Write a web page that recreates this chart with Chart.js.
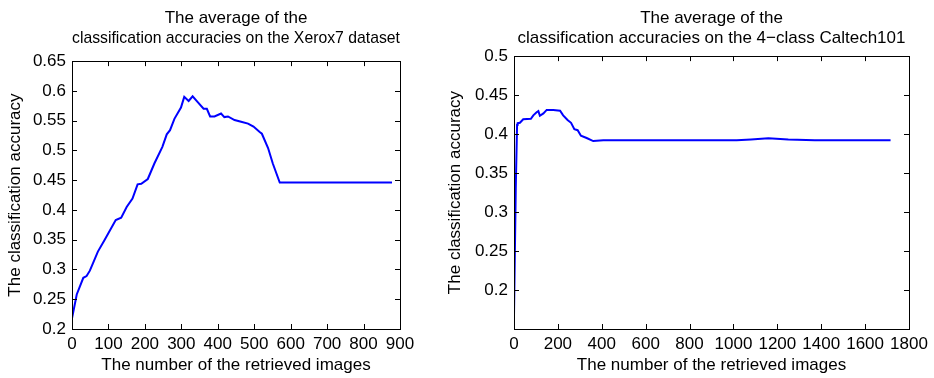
<!DOCTYPE html>
<html>
<head>
<meta charset="utf-8">
<script src="https://cdn.jsdelivr.net/npm/chart.js@4"></script>
<style>
  body { margin: 0; background: #fff; }
  #wrapA { position: absolute; left: 0; top: 0; width: 440px; height: 378px; }
  #wrapB { position: absolute; left: 440px; top: 0; width: 494px; height: 378px; }
</style>
</head>
<body>
<div id="wrapA"><canvas id="chartA" width="440" height="378"></canvas></div>
<div id="wrapB"><canvas id="chartB" width="494" height="378"></canvas></div>
<script>
// Xerox7 dataset
const xeroxX = [0, 13, 31, 40, 49, 58, 71, 89, 120, 135, 150, 166, 180, 190, 208, 226, 248, 260, 269, 281, 299, 308, 320, 331, 345, 361, 370, 379, 391, 409, 418, 428, 446, 464, 483, 498, 515, 521, 538, 551, 570, 878];
const xeroxY = [0.218, 0.258, 0.286, 0.289, 0.298, 0.311, 0.330, 0.349, 0.383, 0.387, 0.405, 0.419, 0.443, 0.444, 0.452, 0.478, 0.506, 0.527, 0.534, 0.553, 0.572, 0.590, 0.583, 0.591, 0.581, 0.570, 0.570, 0.557, 0.557, 0.562, 0.556, 0.557, 0.551, 0.548, 0.545, 0.540, 0.531, 0.528, 0.504, 0.478, 0.446, 0.446];
const xeroxXTicks = [0, 100, 200, 300, 400, 500, 600, 700, 800, 900];
const xeroxYTicks = [0.2, 0.25, 0.3, 0.35, 0.4, 0.45, 0.5, 0.55, 0.6, 0.65];

// 4-class Caltech101
const caltechX = [0, 8, 14, 17, 27, 42, 77, 88, 103, 111, 118, 134, 149, 179, 210, 224, 244, 260, 275, 290, 305, 331, 361, 407, 1015, 1080, 1159, 1250, 1371, 1716];
const caltechY = [0.167, 0.33, 0.412, 0.414, 0.4145, 0.419, 0.4197, 0.424, 0.428, 0.4295, 0.4235, 0.4265, 0.431, 0.431, 0.430, 0.424, 0.418, 0.4145, 0.4064, 0.405, 0.398, 0.395, 0.391, 0.392, 0.392, 0.393, 0.3945, 0.393, 0.392, 0.392];
const caltechXTicks = [0, 200, 400, 600, 800, 1000, 1200, 1400, 1600, 1800];
const caltechYTicks = [0.2, 0.25, 0.3, 0.35, 0.4, 0.45, 0.5];

const FONT = { family: '"Liberation Sans", Arial, sans-serif', size: 17, lineHeight: 1.2 };
Chart.defaults.color = '#000';

// matlab style box with inward ticks, title centred over the axes
const boxPlugin = {
  id: 'box',
  afterLayout(chart) {
    const tb = chart.titleBlock;
    if (tb) {
      tb.left = chart.chartArea.left;
      tb.right = chart.chartArea.right;
      tb.width = tb.right - tb.left;
    }
  },
  afterDraw(chart) {
    const ctx = chart.ctx, a = chart.chartArea;
    const sx = chart.scales.x, sy = chart.scales.y;
    ctx.save();
    ctx.strokeStyle = '#000';
    ctx.lineWidth = 1;
    ctx.strokeRect(Math.round(a.left) + 0.5, Math.round(a.top) + 0.5, Math.round(a.right - a.left), Math.round(a.bottom - a.top));
    ctx.beginPath();
    sx.ticks.forEach(t => {
      const p = Math.round(sx.getPixelForValue(t.value)) + 0.5;
      ctx.moveTo(p, a.bottom); ctx.lineTo(p, a.bottom - 5);
      ctx.moveTo(p, a.top); ctx.lineTo(p, a.top + 5);
    });
    sy.ticks.forEach(t => {
      const p = Math.round(sy.getPixelForValue(t.value)) + 0.5;
      ctx.moveTo(a.left, p); ctx.lineTo(a.left + 5, p);
      ctx.moveTo(a.right, p); ctx.lineTo(a.right - 5, p);
    });
    ctx.stroke();
    ctx.restore();
  }
};

function makeChart(id, xs, ys, xTicks, yTicks, xMax, yMin, yMax, title, yWidth, padRight, titleBottom) {
  return new Chart(document.getElementById(id), {
    type: 'line',
    data: {
      datasets: [{
        data: xs.map((x, i) => ({ x: x, y: ys[i] })),
        borderColor: '#0000ff',
        borderWidth: 2,
        pointRadius: 0,
        tension: 0,
        fill: false
      }]
    },
    options: {
      responsive: false,
      animation: false,
      layout: { padding: { left: 0, right: padRight, top: 0, bottom: 0 } },
      plugins: {
        legend: { display: false },
        tooltip: { enabled: false },
        title: {
          display: true,
          text: title,
          color: '#000',
          font: { ...FONT, weight: 'normal', lineHeight: 1.18 },
          padding: { top: 8, bottom: titleBottom }
        }
      },
      scales: {
        x: {
          type: 'linear',
          min: 0, max: xMax,
          afterBuildTicks: s => { s.ticks = xTicks.map(v => ({ value: v })); },
          afterFit: s => { s.height = 49; },
          grid: { display: false, drawTicks: false, tickLength: 0 },
          border: { display: false },
          ticks: { font: FONT, padding: 5, maxRotation: 0, autoSkip: false, callback: v => String(v) },
          title: { display: true, text: 'The number of the retrieved images', font: FONT, padding: { top: 0, bottom: 2 } }
        },
        y: {
          type: 'linear',
          min: yMin, max: yMax,
          afterBuildTicks: s => { s.ticks = yTicks.map(v => ({ value: v })); },
          afterFit: s => { s.width = yWidth; },
          grid: { display: false, drawTicks: false, tickLength: 0 },
          border: { display: false },
          ticks: { font: FONT, padding: 6, autoSkip: false, callback: v => String(+v.toFixed(2)) },
          title: { display: true, text: 'The classification accuracy', font: FONT, padding: { top: 5, bottom: 0 } }
        }
      }
    },
    plugins: [boxPlugin]
  });
}

makeChart('chartA', xeroxX, xeroxY, xeroxXTicks, xeroxYTicks, 900, 0.2, 0.65,
  ['The average of the', 'classification accuracies on the Xerox7 dataset'], 72, 40, 13);
makeChart('chartB', caltechX, caltechY, caltechXTicks, caltechYTicks, 1800, 0.15, 0.5,
  ['The average of the', 'classification accuracies on the 4\u2212class Caltech101'], 74, 25, 8);
</script>
</body>
</html>
